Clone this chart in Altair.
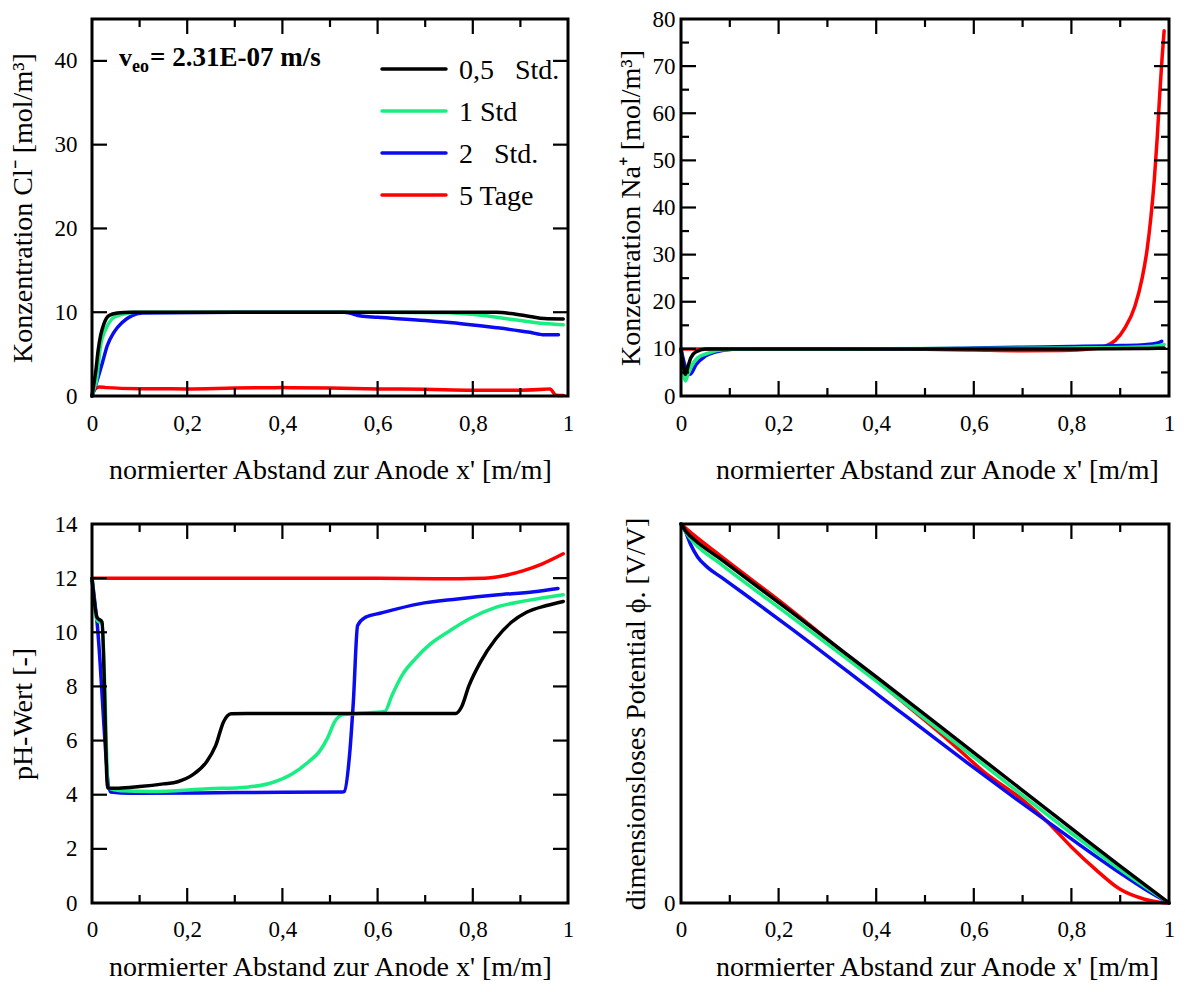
import altair as alt
import pandas as pd

FONT = "Liberation Serif"
SERIES = ["0,5\u00a0\u00a0 Std.", "1 Std", "2\u00a0\u00a0 Std.", "5 Tage"]
COLORS = ["#000000", "#19ee82", "#0b0bf0", "#ff0000"]
DRAW_ORDER = [3, 2, 1, 0]

X_TITLE = "normierter Abstand zur Anode x' [m/m]"
X_LABEL_VALUES = [0, 0.2, 0.4, 0.6, 0.8, 1.0]
X_MAJOR_TICKS = [0.2, 0.4, 0.6, 0.8]
X_MINOR_TICKS = [0.1, 0.3, 0.5, 0.7, 0.9]

# ---- Panel A: Cl- concentration
A_TITLE = "Konzentration Cl⁻ [mol/m³]"
A_YDOMAIN = [0, 45]
A_YLABELS = [0, 10, 20, 30, 40]
A_YMAJOR = [10, 20, 30, 40]
A_YMINOR = []
A_X_BLACK = [0, 0.004, 0.008, 0.013, 0.018, 0.025, 0.036, 0.053, 0.08, 0.3, 0.6, 0.85, 0.88, 0.92, 0.95, 0.99]
A_Y_BLACK = [0, 1.5, 3.0, 5.5, 7.2, 8.6, 9.6, 9.9, 10, 10, 10, 10, 9.85, 9.5, 9.25, 9.2]
A_X_GREEN = [0, 0.005, 0.009, 0.018, 0.029, 0.042, 0.055, 0.07, 0.09, 0.3, 0.6, 0.75, 0.8, 0.85, 0.9, 0.95, 0.99]
A_Y_GREEN = [0, 1.0, 1.7, 6.0, 8.0, 9.2, 9.6, 9.8, 10, 10, 10, 9.95, 9.75, 9.4, 9.0, 8.65, 8.5]
A_X_BLUE = [0, 0.006, 0.01, 0.022, 0.032, 0.046, 0.064, 0.084, 0.105, 0.3, 0.53, 0.565, 0.6, 0.7, 0.78, 0.85, 0.92, 0.95, 0.98]
A_Y_BLUE = [0, 1.0, 1.7, 4.0, 6.0, 7.6, 8.8, 9.6, 9.9, 10, 10, 9.55, 9.4, 9.0, 8.6, 8.15, 7.6, 7.3, 7.3]
A_X_RED = [0, 0.006, 0.015, 0.03, 0.1, 0.2, 0.3, 0.4, 0.5, 0.6, 0.7, 0.8, 0.9, 0.95, 0.962, 0.975, 0.99]
A_Y_RED = [0, 0.8, 1.07, 1.0, 0.88, 0.85, 0.95, 1.0, 0.95, 0.85, 0.8, 0.7, 0.7, 0.8, 0.85, 0.08, 0.05]
A_NOTE_V = "v"
A_NOTE_SUB = "eo"
A_NOTE_REST = "= 2.31E-07 m/s"

# ---- Panel B: Na+ concentration
B_TITLE = "Konzentration Na⁺ [mol/m³]"
B_YDOMAIN = [0, 80]
B_YLABELS = [0, 10, 20, 30, 40, 50, 60, 70, 80]
B_YMAJOR = [10, 20, 30, 40, 50, 60, 70]
B_YMINOR = [5, 15, 25, 35, 45, 55, 65, 75]
B_X_BLACK = [0, 0.004, 0.009, 0.015, 0.02, 0.031, 0.05, 0.2, 0.5, 0.8, 0.95, 0.99]
B_Y_BLACK = [10, 7.0, 4.6, 6.5, 8.1, 9.4, 10, 10, 10, 10, 10.1, 10.2]
B_X_GREEN = [0, 0.004, 0.009, 0.014, 0.02, 0.034, 0.056, 0.084, 0.12, 0.3, 0.6, 0.8, 0.9, 0.96, 0.99]
B_Y_GREEN = [10, 6.0, 3.2, 4.5, 6.0, 8.1, 9.1, 9.8, 10, 10, 10.1, 10.2, 10.3, 10.5, 10.9]
B_X_BLUE = [0, 0.008, 0.019, 0.031, 0.049, 0.07, 0.106, 0.15, 0.4, 0.6, 0.7, 0.8, 0.9, 0.95, 0.975, 0.985]
B_Y_BLUE = [10, 6.5, 4.6, 6.7, 8.4, 9.3, 9.9, 10, 10, 10.2, 10.35, 10.5, 10.7, 10.9, 11.2, 11.6]
B_X_RED = [0, 0.1, 0.3, 0.5, 0.6, 0.7, 0.78, 0.84, 0.87, 0.89, 0.91, 0.93, 0.945, 0.955, 0.963, 0.97, 0.976, 0.981, 0.986, 0.99]
B_Y_RED = [10, 10, 10, 9.9, 9.75, 9.6, 9.65, 10.0, 10.6, 11.8, 14.5, 19, 25, 31, 38, 46, 55, 64, 72, 77.5]

# ---- Panel C: pH
C_TITLE = "pH-Wert [-]"
C_YDOMAIN = [0, 14]
C_YLABELS = [0, 2, 4, 6, 8, 10, 12, 14]
C_YMAJOR = [2, 4, 6, 8, 10, 12]
C_YMINOR = []
C_X_BLACK = [0, 0.0106, 0.021, 0.033, 0.056, 0.1, 0.15, 0.18, 0.212, 0.24, 0.26, 0.276, 0.292, 0.325, 0.5, 0.764, 0.776, 0.792, 0.816, 0.848, 0.881, 0.913, 0.953, 0.99]
C_Y_BLACK = [12, 10.55, 10.38, 4.25, 4.24, 4.3, 4.4, 4.48, 4.74, 5.2, 5.82, 6.68, 6.99, 7.0, 7.0, 7.0, 7.23, 8.03, 8.9, 9.75, 10.37, 10.74, 10.98, 11.14]
C_X_GREEN = [0, 0.0106, 0.021, 0.035, 0.06, 0.123, 0.244, 0.325, 0.381, 0.421, 0.454, 0.478, 0.495, 0.51, 0.526, 0.56, 0.615, 0.63, 0.651, 0.679, 0.711, 0.752, 0.792, 0.848, 0.913, 0.99]
C_Y_GREEN = [12, 10.45, 10.3, 4.24, 4.15, 4.12, 4.22, 4.28, 4.46, 4.77, 5.2, 5.6, 6.1, 6.7, 6.95, 7.0, 7.07, 7.66, 8.4, 9.02, 9.57, 10.06, 10.49, 10.92, 11.17, 11.39]
C_X_BLUE = [0, 0.0106, 0.039, 0.083, 0.3, 0.526, 0.53, 0.541, 0.549, 0.558, 0.574, 0.607, 0.687, 0.768, 0.848, 0.929, 0.979]
C_Y_BLUE = [12, 10.37, 4.1, 4.05, 4.08, 4.1, 4.12, 5.45, 7.42, 10.25, 10.55, 10.71, 11.05, 11.23, 11.38, 11.5, 11.62]
C_X_RED = [0, 0.2, 0.4, 0.6, 0.72, 0.824, 0.865, 0.905, 0.945, 0.99]
C_Y_RED = [12, 12, 12, 12, 11.98, 12.0, 12.09, 12.27, 12.52, 12.9]

# ---- Panel D: dimensionless potential
D_TITLE = "dimensionsloses Potential ϕ. [V/V]"
D_YDOMAIN = [0, 1]
D_YLABELS = [0]
D_YMAJOR = []
D_YMINOR = []
D_X_BLACK = [0, 0.013, 0.027, 0.083, 0.224, 0.407, 0.6, 0.8, 0.9, 1.0]
D_Y_BLACK = [1, 0.976, 0.959, 0.906, 0.77, 0.59, 0.397, 0.197, 0.097, 0]
D_X_GREEN = [0, 0.013, 0.027, 0.083, 0.224, 0.407, 0.6, 0.8, 0.9, 1.0]
D_Y_GREEN = [1, 0.972, 0.95, 0.893, 0.757, 0.579, 0.385, 0.184, 0.088, 0]
D_X_BLUE = [0, 0.009, 0.02, 0.034, 0.055, 0.083, 0.125, 0.224, 0.407, 0.6, 0.7, 0.8, 0.9, 0.95, 1.0]
D_Y_BLUE = [1, 0.98, 0.945, 0.913, 0.885, 0.859, 0.82, 0.726, 0.546, 0.357, 0.262, 0.169, 0.079, 0.037, 0]
D_X_RED = [0, 0.013, 0.083, 0.224, 0.35, 0.45, 0.55, 0.62, 0.7, 0.75, 0.8, 0.85, 0.9, 0.95, 0.98, 1.0]
D_Y_RED = [1, 0.985, 0.914, 0.775, 0.643, 0.535, 0.427, 0.347, 0.272, 0.215, 0.148, 0.088, 0.036, 0.01, 0.002, 0]

# legend placement inside panel A (pixels from the plot's top-left corner)
LEG_X0, LEG_X1, LEG_TX = 290, 354, 367
LEG_Y0, LEG_DY = 50, 42


def make_df(xs, ys):
    rows = []
    for i, (xv, yv) in enumerate(zip(xs, ys)):
        for a, b in zip(xv, yv):
            rows.append({"x": a, "y": b, "s": SERIES[i]})
    return pd.DataFrame(rows)


def panel(xs, ys, W, H, ydom, ylabels, ytitle, ymajor, yminor, ylp, ytp,
          title_x=None, xlp=16, xtp=21, extra=()):
    xscale = alt.Scale(domain=[0, 1], nice=False, zero=False)
    yscale = alt.Scale(domain=ydom, nice=False, zero=False)
    common = dict(ticks=False, tickSize=0, domain=False, grid=False, labelFlush=False,
                  labelFont=FONT, titleFont=FONT, labelFontSize=23, titleFontSize=28,
                  titleFontWeight="normal", labelColor="black", titleColor="black")
    xkw = dict(title=X_TITLE, values=X_LABEL_VALUES,
               labelExpr="replace(format(datum.value, '.1~f'), '.', ',')",
               labelPadding=xlp, titlePadding=xtp, **common)
    if title_x is not None:
        xkw["titleX"] = title_x
    xaxis = alt.Axis(**xkw)
    yaxis = alt.Axis(title=ytitle, values=ylabels, format="d",
                     labelPadding=ylp, titlePadding=ytp, **common)
    cscale = alt.Scale(domain=SERIES, range=COLORS)
    df = make_df(xs, ys)
    layers = []
    for i in DRAW_ORDER:
        sub = df[df.s == SERIES[i]]
        layers.append(
            alt.Chart(sub).mark_line(strokeWidth=3.5, interpolate="monotone",
                                     strokeCap="round", strokeJoin="round").encode(
                x=alt.X("x:Q", scale=xscale, axis=xaxis),
                y=alt.Y("y:Q", scale=yscale, axis=yaxis),
                color=alt.Color("s:N", scale=cscale, legend=None),
            )
        )

    def xt(vals, length, top):
        d = pd.DataFrame({"v": vals})
        y0, y1 = (0, length) if top else (H, H - length)
        return alt.Chart(d).mark_rule(color="black", strokeWidth=2.2).encode(
            x=alt.X("v:Q", scale=xscale, axis=xaxis), y=alt.value(y0), y2=alt.value(y1))

    def yt(vals, length, left):
        d = pd.DataFrame({"v": vals})
        x0, x1 = (0, length) if left else (W, W - length)
        return alt.Chart(d).mark_rule(color="black", strokeWidth=2.2).encode(
            y=alt.Y("v:Q", scale=yscale, axis=yaxis), x=alt.value(x0), x2=alt.value(x1))

    for top in (False, True):
        layers.append(xt(X_MAJOR_TICKS, 15, top))
        layers.append(xt(X_MINOR_TICKS, 8, top))
    for left in (True, False):
        if ymajor:
            layers.append(yt(ymajor, 15, left))
        if yminor:
            layers.append(yt(yminor, 8, left))
    # plot frame
    frame = alt.Chart(pd.DataFrame({"f": [0]})).mark_rect(
        fill="white", fillOpacity=0, stroke="black", strokeWidth=3).encode(
        x=alt.value(0), x2=alt.value(W), y=alt.value(0), y2=alt.value(H))
    layers.append(frame)
    for e in extra:
        layers.append(e(cscale))
    return alt.layer(*layers).properties(width=W, height=H)


def note(text, x, y, size):
    def build(cscale):
        d = pd.DataFrame({"t": [text]})
        return alt.Chart(d).mark_text(align="left", baseline="alphabetic", font=FONT,
                                      fontSize=size, fontWeight="bold", color="black").encode(
            text="t:N", x=alt.value(x), y=alt.value(y))
    return build


def legend_row(i):
    def build(cscale):
        d = pd.DataFrame({"s": [SERIES[i]]})
        yy = LEG_Y0 + i * LEG_DY
        line = alt.Chart(d).mark_rule(strokeWidth=3.5, strokeCap="round").encode(
            x=alt.value(LEG_X0), x2=alt.value(LEG_X1), y=alt.value(yy),
            color=alt.Color("s:N", scale=cscale, legend=None))
        txt = alt.Chart(d).mark_text(align="left", baseline="middle", font=FONT,
                                     fontSize=28, color="black").encode(
            text="s:N", x=alt.value(LEG_TX), y=alt.value(yy + 2))
        return alt.layer(line, txt)
    return build


A = panel([A_X_BLACK, A_X_GREEN, A_X_BLUE, A_X_RED], [A_Y_BLACK, A_Y_GREEN, A_Y_BLUE, A_Y_RED],
          476, 377, A_YDOMAIN, A_YLABELS, A_TITLE, A_YMAJOR, A_YMINOR, 15, 17,
          extra=[note(A_NOTE_V, 27, 47, 26), note(A_NOTE_SUB, 40, 53, 18), note(A_NOTE_REST, 58, 47, 27)]
          + [legend_row(i) for i in range(4)])
B = panel([B_X_BLACK, B_X_GREEN, B_X_BLUE, B_X_RED], [B_Y_BLACK, B_Y_GREEN, B_Y_BLUE, B_Y_RED],
          488, 377, B_YDOMAIN, B_YLABELS, B_TITLE, B_YMAJOR, B_YMINOR, 6, 7, title_x=256)
C = panel([C_X_BLACK, C_X_GREEN, C_X_BLUE, C_X_RED], [C_Y_BLACK, C_Y_GREEN, C_Y_BLUE, C_Y_RED],
          476, 379, C_YDOMAIN, C_YLABELS, C_TITLE, C_YMAJOR, C_YMINOR, 15, 17,
          xlp=15, xtp=12)
D = panel([D_X_BLACK, D_X_GREEN, D_X_BLUE, D_X_RED], [D_Y_BLACK, D_Y_GREEN, D_Y_BLUE, D_Y_RED],
          488, 379, D_YDOMAIN, D_YLABELS, D_TITLE, D_YMAJOR, D_YMINOR, 6, 13,
          title_x=256, xlp=15, xtp=12)

chart = alt.concat(A, B, C, D, columns=2, spacing={"row": 128, "column": 113},
                   bounds="flush", align="each").properties(
    padding={"left": 1, "top": 0, "right": 0, "bottom": 0},
    background="white",
).configure(font=FONT).configure_view(stroke=None).configure_axis(
    labelFont=FONT, titleFont=FONT)

chart.save("out.html", embed_options={"renderer": "svg", "actions": False})
